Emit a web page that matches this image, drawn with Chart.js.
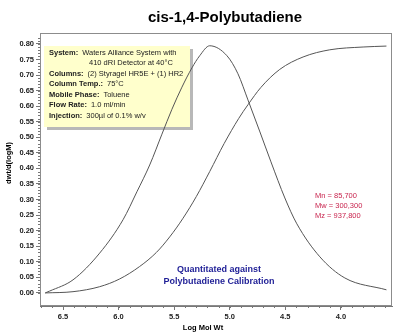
<!DOCTYPE html>
<html>
<head>
<meta charset="utf-8">
<script src="https://cdn.jsdelivr.net/npm/chart.js@4/dist/chart.umd.min.js"></script>
<style>
  html, body { margin: 0; padding: 0; background: #fff; }
  #wrap { width: 401px; height: 336px; }
</style>
</head>
<body>
<div id="wrap"><canvas id="gpc" width="401" height="336"></canvas></div>
<script>
// distribution curve dwt/d(logM)
var distLogM = [6.66, 6.62, 6.41, 6.17, 5.96, 5.835, 5.72, 5.61, 5.52, 5.43, 5.34, 5.27, 5.18, 5.025, 4.926, 4.836, 4.728, 4.629, 4.504, 4.396, 4.189, 3.964, 3.59];
var distValues = [0.0, 0.006, 0.042, 0.128, 0.235, 0.325, 0.411, 0.51, 0.59, 0.661, 0.723, 0.762, 0.794, 0.762, 0.704, 0.62, 0.517, 0.421, 0.305, 0.222, 0.116, 0.048, 0.01];

// cumulative curve (same y scale)
var cumLogM = [6.66, 6.41, 6.17, 5.99, 5.81, 5.66, 5.54, 5.42, 5.30, 5.18, 5.05, 4.92, 4.835, 4.72, 4.55, 4.34, 4.10, 3.80, 3.59];
var cumValues = [0.0, 0.004, 0.02, 0.045, 0.085, 0.13, 0.18, 0.24, 0.31, 0.39, 0.48, 0.56, 0.605, 0.66, 0.718, 0.758, 0.781, 0.79, 0.793];

var xTicks = [6.5, 6.0, 5.5, 5.0, 4.5, 4.0];
var yTicks = [0, 0.05, 0.1, 0.15, 0.2, 0.25, 0.3, 0.35, 0.4, 0.45, 0.5, 0.55, 0.6, 0.65, 0.7, 0.75, 0.8];

var conditions = [
    ["System:", "Waters Alliance System with"],
    ["", "410 dRI Detector at 40°C"],
    ["Columns:", "(2) Styragel HR5E + (1) HR2"],
    ["Column Temp.:", "75°C"],
    ["Mobile Phase:", "Toluene"],
    ["Flow Rate:", "1.0 ml/min"],
    ["Injection:", "300µl of 0.1% w/v"]
];
var averages = ["Mn = 85,700", "Mw = 300,300", "Mz = 937,800"];
var calibration = ["Quantitated against", "Polybutadiene Calibration"];

function toPoints(xs, ys) {
    return xs.map(function(x, i) { return { x: x, y: ys[i] }; });
}

var FONT = "Arial, 'Liberation Sans', sans-serif";

var extras = {
    id: 'extras',
    beforeDatasetsDraw: function(chart) {
        var ctx = chart.ctx;
        ctx.save();
        // conditions box with dotted shadow, curves go over it
        var bx = 44, by = 46, bw = 146, bh = 81;
        ctx.fillStyle = '#b8b8b8';
        ctx.fillRect(bx + 3, by + 3, bw, bh);
        ctx.fillStyle = '#ffffcc';
        ctx.fillRect(bx, by, bw, bh);

        ctx.textAlign = 'left';
        ctx.textBaseline = 'middle';
        ctx.fillStyle = '#222';
        var lineY = [53, 63, 74, 84, 95, 105, 116];
        conditions.forEach(function(row, i) {
            ctx.font = 'bold 7.5px ' + FONT;
            var w = ctx.measureText(row[0]).width;
            var vx = row[0] ? 49 + w + 4 : 89;
            ctx.fillText(row[0], 49, lineY[i]);
            ctx.font = '7.5px ' + FONT;
            ctx.fillText(row[1], vx, lineY[i]);
        });
        ctx.restore();
    },
    afterDraw: function(chart) {
        var ctx = chart.ctx;
        var a = chart.chartArea;
        var xs = chart.scales.x, ys = chart.scales.y;
        ctx.save();

        // frame
        ctx.strokeStyle = '#8c8c8c';
        ctx.lineWidth = 1;
        ctx.strokeRect(Math.round(a.left) + 0.5, Math.round(a.top) + 0.5,
                       Math.round(a.right - a.left) - 1, Math.round(a.bottom - a.top) - 1);

        // minor ticks
        ctx.strokeStyle = '#777';
        ctx.beginPath();
        for (var v = 0; v <= 0.83; v += 0.01) {
            var py = Math.round(ys.getPixelForValue(v)) + 0.5;
            ctx.moveTo(a.left - 2, py); ctx.lineTo(a.left, py);
        }
        for (var lx = 3.6; lx <= 6.7; lx += 0.1) {
            var px = Math.round(xs.getPixelForValue(lx)) + 0.5;
            ctx.moveTo(px, a.bottom); ctx.lineTo(px, a.bottom + 2);
        }
        ctx.stroke();

        // title
        ctx.fillStyle = '#000';
        ctx.font = 'bold 15px ' + FONT;
        ctx.textAlign = 'center';
        ctx.textBaseline = 'middle';
        ctx.fillText('cis-1,4-Polybutadiene', 225, 18);

        // axis titles
        ctx.font = 'bold 7.5px ' + FONT;
        ctx.fillText('Log Mol Wt', 203, 328);
        ctx.save();
        ctx.translate(9, 163);
        ctx.rotate(-Math.PI / 2);
        ctx.fillText('dwt/d(logM)', 0, 0);
        ctx.restore();

        // molecular weight averages
        ctx.textAlign = 'left';
        ctx.fillStyle = '#c8244e';
        ctx.font = '7.5px ' + FONT;
        averages.forEach(function(t, i) { ctx.fillText(t, 315, 196 + i * 10); });

        // calibration note
        ctx.fillStyle = '#1e1e96';
        ctx.font = 'bold 9px ' + FONT;
        ctx.textAlign = 'center';
        calibration.forEach(function(t, i) { ctx.fillText(t, 219, 270 + i * 12); });

        ctx.restore();
    }
};

new Chart(document.getElementById('gpc'), {
    type: 'scatter',
    data: {
        datasets: [{
            label: 'dwt/d(logM)',
            data: toPoints(distLogM, distValues),
            showLine: true,
            borderColor: '#555',
            borderWidth: 1,
            pointRadius: 0,
            cubicInterpolationMode: 'monotone'
        }, {
            label: 'Cumulative',
            data: toPoints(cumLogM, cumValues),
            showLine: true,
            borderColor: '#555',
            borderWidth: 1,
            pointRadius: 0,
            cubicInterpolationMode: 'monotone'
        }]
    },
    options: {
        responsive: false,
        animation: false,
        layout: { padding: { left: 0, right: 9, top: 33, bottom: 0 } },
        plugins: { legend: { display: false }, tooltip: { enabled: false } },
        scales: {
            x: {
                type: 'linear',
                reverse: true,
                min: 3.54,
                max: 6.707,
                afterBuildTicks: function(s) { s.ticks = xTicks.map(function(v) { return { value: v }; }); },
                afterFit: function(s) { s.height = 30; },
                grid: { drawOnChartArea: false, drawTicks: true, tickLength: 4, color: '#777' },
                border: { display: true, color: '#777' },
                ticks: {
                    font: { family: FONT, size: 7.5, weight: 'bold' },
                    color: '#222',
                    padding: 2,
                    maxRotation: 0,
                    callback: function(v) { return v.toFixed(1); }
                }
            },
            y: {
                min: -0.042,
                max: 0.835,
                afterBuildTicks: function(s) { s.ticks = yTicks.map(function(v) { return { value: v }; }); },
                afterFit: function(s) { s.width = 40; },
                grid: { drawOnChartArea: false, drawTicks: true, tickLength: 4, color: '#777' },
                border: { display: true, color: '#777' },
                ticks: {
                    font: { family: FONT, size: 7.5, weight: 'bold' },
                    color: '#222',
                    padding: 2,
                    callback: function(v) { return v.toFixed(2); }
                }
            }
        }
    },
    plugins: [extras]
});
</script>
</body>
</html>
